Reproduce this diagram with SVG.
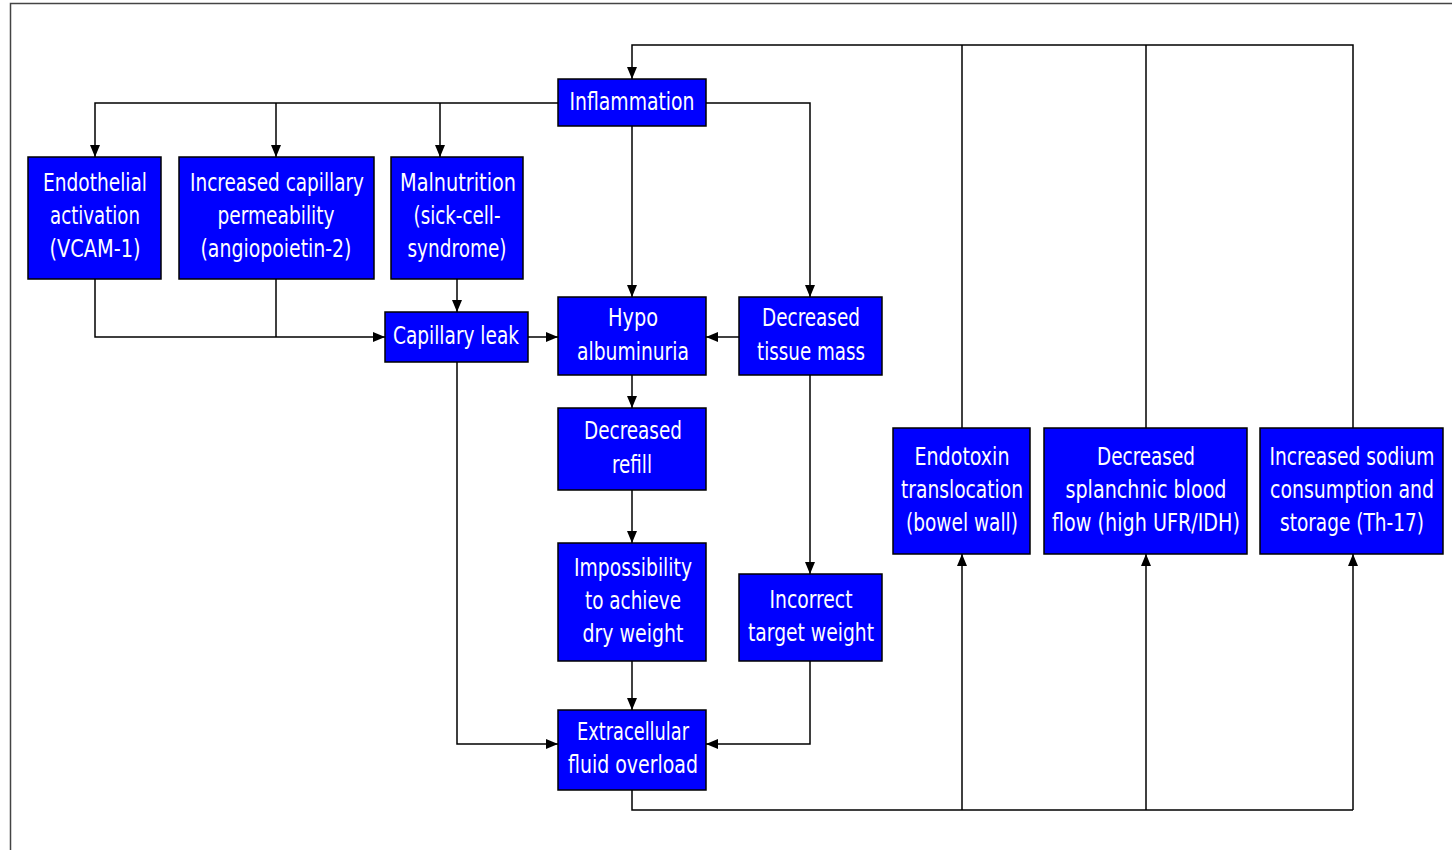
<svg xmlns="http://www.w3.org/2000/svg" width="1452" height="850" viewBox="0 0 1452 850">
<defs>
<marker id="ah" viewBox="0 0 12 10" refX="12" refY="5" markerWidth="12" markerHeight="10" markerUnits="userSpaceOnUse" orient="auto">
<path d="M0,0 L12,5 L0,10 z" fill="#000"/>
</marker>
<style>
.box{fill:#0000FF;stroke:#000;stroke-width:1.5}
.t{font-family:"DejaVu Sans Condensed","DejaVu Sans",sans-serif;font-stretch:condensed;font-size:25px;fill:#fff;text-anchor:middle;dominant-baseline:central}
.c{fill:none;stroke:#000;stroke-width:1.5}
.a{marker-end:url(#ah)}
</style>
</defs>
<rect x="0" y="0" width="1452" height="850" fill="#fff"/>
<path d="M10.5,850 L10.5,3.5 L1452,3.5" fill="none" stroke="#444" stroke-width="1.5"/>
<g id="connectors">
<path class="c a" d="M1353,428 L1353,45 L632,45 L632,79"/>
<path class="c" d="M962,428 L962,45"/>
<path class="c" d="M1146,428 L1146,45"/>
<path class="c" d="M632,790 L632,810 L1353,810"/>
<path class="c a" d="M962,810 L962,554"/>
<path class="c a" d="M1146,810 L1146,554"/>
<path class="c a" d="M1353,810 L1353,554"/>
<path class="c a" d="M558,103 L95,103 L95,157"/>
<path class="c a" d="M276,103 L276,157"/>
<path class="c a" d="M440,103 L440,157"/>
<path class="c a" d="M706,103 L810,103 L810,297"/>
<path class="c a" d="M632,126 L632,297"/>
<path class="c a" d="M95,279 L95,337 L385,337"/>
<path class="c" d="M276,279 L276,337"/>
<path class="c a" d="M457,279 L457,312"/>
<path class="c a" d="M528,337 L558,337"/>
<path class="c a" d="M739,337 L706,337"/>
<path class="c a" d="M632,375 L632,408"/>
<path class="c a" d="M632,490 L632,543"/>
<path class="c a" d="M632,661 L632,710"/>
<path class="c a" d="M457,362 L457,744 L558,744"/>
<path class="c a" d="M810,375 L810,574"/>
<path class="c a" d="M810,661 L810,744 L706,744"/>
</g>
<g id="inflammation"><rect class="box" x="558" y="79" width="148" height="47"/><text class="t" x="632" y="101" textLength="125" lengthAdjust="spacingAndGlyphs">Inflammation</text></g>
<g id="endothelial"><rect class="box" x="28" y="157" width="133" height="122"/><text class="t" x="95" y="182" textLength="104" lengthAdjust="spacingAndGlyphs">Endothelial</text><text class="t" x="95" y="215" textLength="90" lengthAdjust="spacingAndGlyphs">activation</text><text class="t" x="95" y="248" textLength="91" lengthAdjust="spacingAndGlyphs">(VCAM-1)</text></g>
<g id="permeability"><rect class="box" x="179" y="157" width="195" height="122"/><text class="t" x="277" y="182" textLength="174" lengthAdjust="spacingAndGlyphs">Increased capillary</text><text class="t" x="276" y="215" textLength="117" lengthAdjust="spacingAndGlyphs">permeability</text><text class="t" x="276" y="248" textLength="151" lengthAdjust="spacingAndGlyphs">(angiopoietin-2)</text></g>
<g id="malnutrition"><rect class="box" x="391" y="157" width="132" height="122"/><text class="t" x="458" y="182" textLength="116" lengthAdjust="spacingAndGlyphs">Malnutrition</text><text class="t" x="457" y="215" textLength="87" lengthAdjust="spacingAndGlyphs">(sick-cell-</text><text class="t" x="457" y="248" textLength="99" lengthAdjust="spacingAndGlyphs">syndrome)</text></g>
<g id="capillary-leak"><rect class="box" x="385" y="312" width="143" height="50"/><text class="t" x="456" y="335" textLength="126" lengthAdjust="spacingAndGlyphs">Capillary leak</text></g>
<g id="hypo"><rect class="box" x="558" y="297" width="148" height="78"/><text class="t" x="633" y="317" textLength="50" lengthAdjust="spacingAndGlyphs">Hypo</text><text class="t" x="633" y="351" textLength="112" lengthAdjust="spacingAndGlyphs">albuminuria</text></g>
<g id="tissue-mass"><rect class="box" x="739" y="297" width="143" height="78"/><text class="t" x="811" y="317" textLength="98" lengthAdjust="spacingAndGlyphs">Decreased</text><text class="t" x="811" y="351" textLength="108" lengthAdjust="spacingAndGlyphs">tissue mass</text></g>
<g id="refill"><rect class="box" x="558" y="408" width="148" height="82"/><text class="t" x="633" y="430" textLength="98" lengthAdjust="spacingAndGlyphs">Decreased</text><text class="t" x="632" y="464" textLength="40" lengthAdjust="spacingAndGlyphs">refill</text></g>
<g id="impossibility"><rect class="box" x="558" y="543" width="148" height="118"/><text class="t" x="633" y="567" textLength="118" lengthAdjust="spacingAndGlyphs">Impossibility</text><text class="t" x="633" y="600" textLength="96" lengthAdjust="spacingAndGlyphs">to achieve</text><text class="t" x="633" y="633" textLength="101" lengthAdjust="spacingAndGlyphs">dry weight</text></g>
<g id="incorrect"><rect class="box" x="739" y="574" width="143" height="87"/><text class="t" x="811" y="599" textLength="83" lengthAdjust="spacingAndGlyphs">Incorrect</text><text class="t" x="811" y="632" textLength="126" lengthAdjust="spacingAndGlyphs">target weight</text></g>
<g id="extracellular"><rect class="box" x="558" y="710" width="148" height="80"/><text class="t" x="633" y="731" textLength="112" lengthAdjust="spacingAndGlyphs">Extracellular</text><text class="t" x="633" y="764" textLength="130" lengthAdjust="spacingAndGlyphs">fluid overload</text></g>
<g id="endotoxin"><rect class="box" x="893" y="428" width="137" height="126"/><text class="t" x="962" y="456" textLength="95" lengthAdjust="spacingAndGlyphs">Endotoxin</text><text class="t" x="962" y="489" textLength="122" lengthAdjust="spacingAndGlyphs">translocation</text><text class="t" x="962" y="522" textLength="112" lengthAdjust="spacingAndGlyphs">(bowel wall)</text></g>
<g id="splanchnic"><rect class="box" x="1044" y="428" width="203" height="126"/><text class="t" x="1146" y="456" textLength="98" lengthAdjust="spacingAndGlyphs">Decreased</text><text class="t" x="1146" y="489" textLength="161" lengthAdjust="spacingAndGlyphs">splanchnic blood</text><text class="t" x="1146" y="522" textLength="188" lengthAdjust="spacingAndGlyphs">flow (high UFR/IDH)</text></g>
<g id="sodium"><rect class="box" x="1260" y="428" width="183" height="126"/><text class="t" x="1352" y="456" textLength="165" lengthAdjust="spacingAndGlyphs">Increased sodium</text><text class="t" x="1352" y="489" textLength="164" lengthAdjust="spacingAndGlyphs">consumption and</text><text class="t" x="1352" y="522" textLength="144" lengthAdjust="spacingAndGlyphs">storage (Th-17)</text></g>
</svg>
